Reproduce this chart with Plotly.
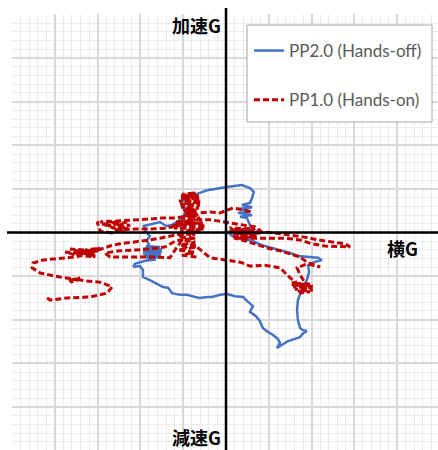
import plotly.graph_objects as go

# Lateral G (x) and longitudinal G (y) samples, one major grid cell = 0.1 G
pp20_lat = [
    -0.217, -0.201, -0.194, -0.194, -0.178, -0.161, -0.147, -0.135, -0.126, -0.107,
    -0.091, -0.072, -0.061, -0.044, -0.033, -0.014, 0.002, 0.021, 0.040, 0.049,
    0.063, 0.056, 0.070, 0.079, 0.086, 0.098, 0.110, 0.121, 0.126, 0.119,
    0.133, 0.145, 0.161, 0.173, 0.180, 0.189, 0.180, 0.173, 0.168, 0.166,
    0.168, 0.175, 0.182, 0.189, 0.194, 0.192, 0.206, 0.224, 0.215, 0.192,
    0.168, 0.150, 0.126, 0.107, 0.084, 0.061, 0.037, 0.014, 0.005, 0.021,
    0.044, 0.068, 0.056, 0.049,
    0.033, 0.061, 0.028, 0.058, 0.030, 0.061, 0.037, 0.056,
    0.061, 0.065, 0.056, 0.037, 0.016, -0.002, -0.026, -0.044, -0.061, -0.077,
    -0.091, -0.105, -0.093, -0.098, -0.107, -0.126, -0.140, -0.154, -0.173, -0.192,
    -0.187, -0.178, -0.185, -0.178,
    -0.187, -0.154, -0.194, -0.150, -0.194, -0.150, -0.194, -0.152, -0.192, -0.154,
    -0.185, -0.164,
    -0.189, -0.213, -0.217,
]
pp20_lon = [
    -0.079, -0.077, -0.086, -0.102, -0.109, -0.118, -0.125, -0.127, -0.139, -0.143,
    -0.143, -0.148, -0.150, -0.148, -0.148, -0.143, -0.141, -0.146, -0.148, -0.157,
    -0.169, -0.182, -0.192, -0.203, -0.219, -0.228, -0.235, -0.244, -0.253, -0.265,
    -0.256, -0.249, -0.244, -0.240, -0.231, -0.226, -0.224, -0.219, -0.201, -0.178,
    -0.155, -0.136, -0.123, -0.109, -0.091, -0.075, -0.068, -0.063, -0.058, -0.056,
    -0.054, -0.047, -0.040, -0.036, -0.029, -0.019, -0.015, -0.008, 0.001, 0.006,
    0.008, 0.006, 0.017, 0.033,
    0.036, 0.040, 0.045, 0.049, 0.054, 0.058, 0.063, 0.068,
    0.079, 0.093, 0.102, 0.109, 0.107, 0.104, 0.100, 0.097, 0.091, 0.086,
    0.081, 0.068, 0.054, 0.040, 0.029, 0.017, 0.015, 0.024, 0.019, 0.015,
    0.001, -0.008, -0.019, -0.031,
    -0.031, -0.033, -0.037, -0.039, -0.042, -0.045, -0.048, -0.050, -0.054, -0.056,
    -0.060, -0.062,
    -0.065, -0.072, -0.079,
]

pp10_lat = [
    # far-left braking loop
    -0.418, -0.411, -0.371, -0.318, -0.278, -0.266, -0.294, -0.329, -0.353, -0.369,
    -0.341, -0.364, -0.346, -0.388, -0.434, -0.453, -0.451, -0.427, -0.399, -0.371,
    # left cluster
    -0.341, -0.376, -0.318, -0.364, -0.299, -0.353, -0.306, -0.329, -0.294,
    -0.336, -0.306, -0.348, -0.313,
    # run back toward the centre
    -0.271, -0.248, -0.213, -0.178, -0.154, -0.131,
    -0.096, -0.112, -0.072, -0.117,
    -0.142, -0.178, -0.213, -0.248, -0.283,
    -0.271, -0.236, -0.201, -0.166, -0.131,
    -0.103, -0.072, -0.107, -0.068, -0.112, -0.075, -0.103, -0.070, -0.098, -0.077,
    # right-hand braking turn
    -0.037, -0.002, 0.033, 0.056, 0.091, 0.126, 0.150, 0.164,
    0.154, 0.196, 0.152, 0.203, 0.157, 0.201, 0.161, 0.203, 0.168, 0.196, 0.173,
    0.185,
    0.173, 0.166, 0.189, 0.220, 0.189,
    0.173, 0.150, 0.126, 0.098, 0.068, 0.044, 0.021,
    0.012, 0.068, 0.009, 0.079, 0.014, 0.084, 0.016, 0.075, 0.021, 0.068, 0.028,
    0.103, 0.138, 0.173, 0.201, 0.231, 0.266, 0.290, 0.278, 0.248, 0.215,
    0.180, 0.150, 0.114, 0.084,
    0.068, 0.040, 0.014, -0.014, -0.037, -0.061,
    # centre cluster
    -0.098, -0.070, -0.105, -0.063, -0.107, -0.061, -0.110, -0.058, -0.107, -0.061,
    -0.105, -0.063, -0.100, -0.068, -0.096, -0.072, -0.098, -0.070, -0.103, -0.065,
    -0.117, -0.054, -0.126, -0.047, -0.121, -0.051, -0.107, -0.061, -0.093, -0.075,
    -0.089, -0.079, -0.091, -0.075, -0.117,
    # upper-left cluster
    -0.150, -0.178, -0.206,
    -0.294, -0.271, -0.285, -0.248, -0.276, -0.231, -0.266, -0.224, -0.257, -0.229,
    -0.236, -0.301, -0.294, -0.266, -0.248,
    -0.213, -0.178, -0.142, -0.112, -0.084,
    -0.061, -0.037, -0.014, 0.016, 0.040, 0.056,
]
pp10_lon = [
    -0.150, -0.155, -0.150, -0.148, -0.139, -0.125, -0.114, -0.111, -0.107, -0.111,
    -0.104, -0.114, -0.109, -0.102, -0.093, -0.081, -0.070, -0.063, -0.061, -0.058,
    -0.054, -0.045, -0.049, -0.038, -0.042, -0.052, -0.056, -0.040, -0.036,
    -0.047, -0.052, -0.042, -0.045,
    -0.031, -0.026, -0.022, -0.017, -0.013, -0.008,
    -0.001, -0.010, -0.013, -0.019,
    -0.033, -0.038, -0.040, -0.042, -0.047,
    -0.056, -0.056, -0.056, -0.056, -0.058,
    -0.017, -0.022, -0.029, -0.033, -0.040, -0.045, -0.052, -0.056, -0.036, -0.026,
    -0.058, -0.063, -0.068, -0.077, -0.075, -0.081, -0.104, -0.114,
    -0.116, -0.118, -0.120, -0.123, -0.125, -0.127, -0.130, -0.132, -0.134, -0.136,
    -0.139, -0.116,
    -0.097, -0.081, -0.072, -0.079, -0.068,
    -0.056, -0.049, -0.042, -0.036, -0.026, -0.019, -0.013,
    0.010, 0.008, 0.006, 0.003, 0.001, -0.001, -0.003, -0.006, -0.008, -0.010, -0.013,
    -0.013, -0.013, -0.017, -0.026, -0.031, -0.033, -0.033, -0.026, -0.022, -0.017,
    -0.010, -0.006, -0.001, 0.001,
    0.013, 0.017, 0.022, 0.026, 0.029, 0.029,
    0.088, 0.091, 0.084, 0.084, 0.079, 0.077, 0.072, 0.070, 0.065, 0.063,
    0.058, 0.056, 0.052, 0.049, 0.045, 0.042, 0.038, 0.036, 0.031, 0.029,
    0.024, 0.022, 0.017, 0.015, 0.010, 0.008, 0.003, 0.001, -0.003, -0.008,
    0.079, 0.065, 0.052, 0.042, 0.033,
    0.033, 0.031, 0.029,
    0.024, 0.026, 0.019, 0.026, 0.015, 0.024, 0.010, 0.017, 0.006, 0.010,
    0.001, 0.024, 0.003, -0.001, 0.006,
    0.008, 0.008, 0.010, 0.015, 0.029,
    0.045, 0.047, 0.045, 0.056, 0.052, 0.047,
]

series_names = ["PP2.0 (Hands-off)", "PP1.0 (Hands-on)"]
axis_labels = {"up": "加速G", "down": "減速G", "right": "横G"}

fig = go.Figure()
fig.add_trace(go.Scatter(
    x=pp20_lat, y=pp20_lon, mode="lines", name=series_names[0],
    line=dict(color="#4472c4", width=2.5), legendgroup="a",
))
fig.add_trace(go.Scatter(
    x=pp10_lat, y=pp10_lon, mode="lines", name=series_names[1],
    line=dict(color="#c00000", width=3, dash="6px,3px"), legendgroup="b",
))

W, H = 438, 450
L, T = 12, 14
px_per_x, px_per_y = 428.0, 436.0
x0_px, y0_px = 226.0, 232.5
xr = [-(x0_px - L) / px_per_x, (W - x0_px) / px_per_x]
yr = [-(H - y0_px) / px_per_y, (y0_px - T) / px_per_y]

grid = dict(
    showgrid=True, gridcolor="#d9d9d9", gridwidth=1.5, zeroline=False,
    showticklabels=False, ticks="", tick0=0, dtick=0.1, showline=False,
    minor=dict(dtick=0.02, showgrid=True, gridcolor="#ececec", gridwidth=1),
)
fig.update_xaxes(range=xr, **grid)
fig.update_yaxes(range=yr, **grid)

PW, PH = W - L, H - T


def px_x(p):
    return (p - L) / PW


def px_y(p):
    return (H - p) / PH


# Bold axes through the origin
xp0, yp0 = px_x(x0_px), px_y(y0_px)
fig.add_shape(type="line", xref="paper", yref="paper", x0=xp0, x1=xp0,
              y0=0, y1=px_y(8), line=dict(color="black", width=2.5))
fig.add_shape(type="line", xref="paper", yref="paper", x0=px_x(7), x1=1,
              y0=yp0, y1=yp0, line=dict(color="black", width=2.5))

# Legend frame
fig.add_shape(type="rect", xref="paper", yref="paper", layer="above",
              x0=px_x(247), x1=px_x(432), y0=px_y(122), y1=px_y(25),
              fillcolor="white", line=dict(color="#a6a6a6", width=1))

lab_font = dict(family="Noto Sans CJK JP", size=18, color="black", weight="bold")
fig.add_annotation(x=-0.008, y=0.476, text=axis_labels["up"], showarrow=False,
                   xanchor="right", yanchor="middle", font=lab_font)
fig.add_annotation(x=-0.008, y=-0.469, text=axis_labels["down"], showarrow=False,
                   xanchor="right", yanchor="middle", font=lab_font)
fig.add_annotation(x=0.372, y=-0.036, text=axis_labels["right"], showarrow=False,
                   xanchor="left", yanchor="middle", font=lab_font)

fig.update_layout(
    width=W, height=H,
    margin=dict(l=L, r=0, t=T, b=0),
    paper_bgcolor="white", plot_bgcolor="white",
    showlegend=True,
    legend=dict(
        x=px_x(249), y=px_y(33), xanchor="left", yanchor="top",
        bgcolor="rgba(0,0,0,0)", borderwidth=0,
        font=dict(family="Lato", size=17, color="#595959"),
        traceorder="grouped", tracegroupgap=24, itemwidth=30,
    ),
)

fig.write_html("out.html")
